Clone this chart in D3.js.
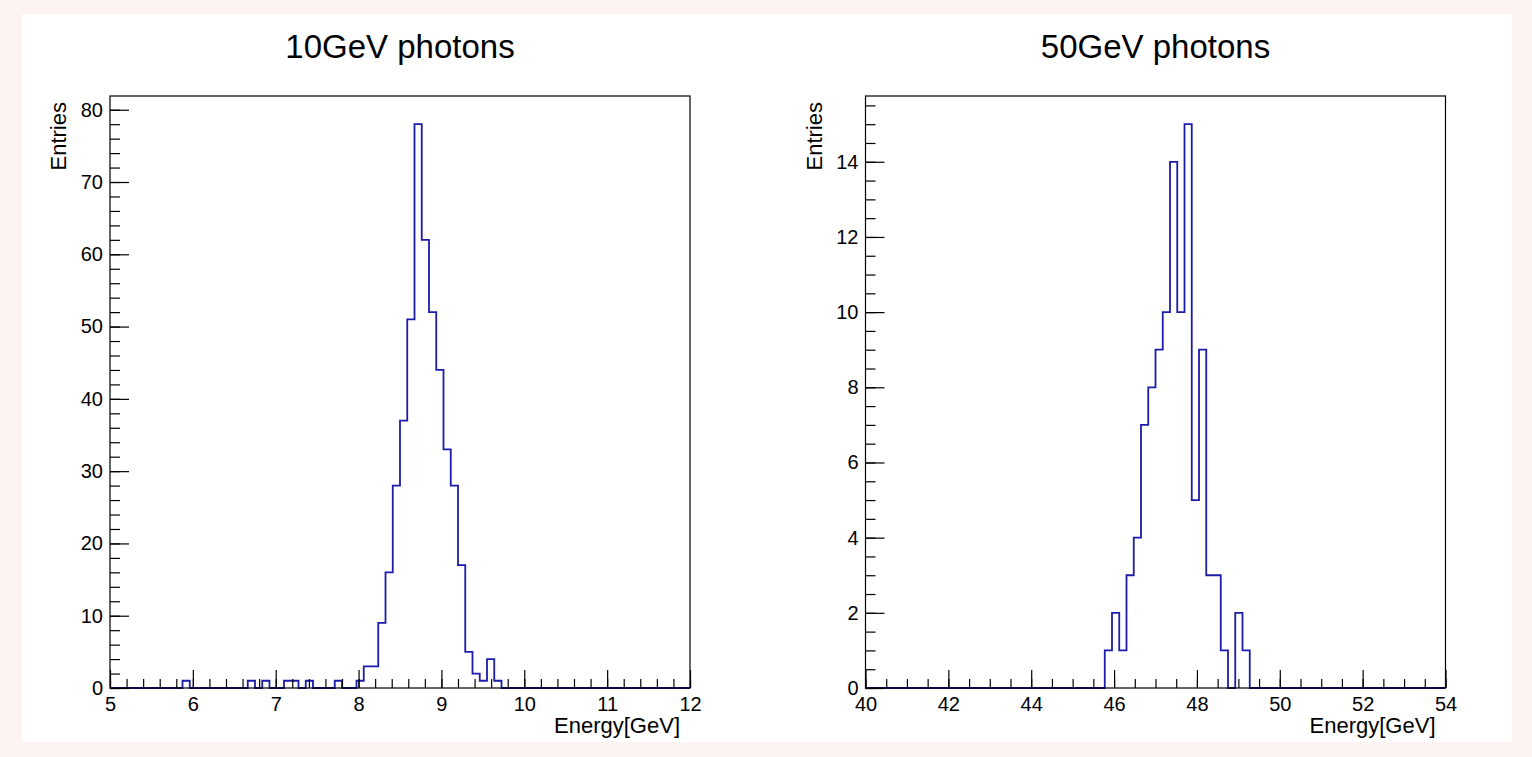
<!DOCTYPE html>
<html>
<head>
<meta charset="utf-8">
<script src="https://cdn.jsdelivr.net/npm/d3@7"></script>
<style>
  body { margin: 0; background: #fdf4f1; }
  svg { display: block; font-family: "Liberation Sans", Arial, Helvetica, sans-serif; }
</style>
</head>
<body>
<svg id="chart" width="1532" height="757"></svg>
<script>
// 80 bins each, counts
var titles = ["10GeV photons", "50GeV photons"];
var xRanges = [[5, 12], [40, 54]];
var counts10 = [
  0,0,0,0,0,0,0,0,0,0,
  1,0,0,0,0,0,0,0,0,1,
  0,1,0,0,1,1,0,1,0,0,
  0,1,0,0,1,3,3,9,16,28,
  37,51,78,62,52,44,33,28,17,5,
  2,1,4,1,0,0,0,0,0,0,
  0,0,0,0,0,0,0,0,0,0,
  0,0,0,0,0,0,0,0,0,0
];
var counts50 = [
  0,0,0,0,0,0,0,0,0,0,
  0,0,0,0,0,0,0,0,0,0,
  0,0,0,0,0,0,0,0,0,0,
  0,0,0,1,2,1,3,4,7,8,
  9,10,14,10,15,5,9,3,3,1,
  0,2,1,0,0,0,0,0,0,0,
  0,0,0,0,0,0,0,0,0,0,
  0,0,0,0,0,0,0,0,0,0
];
var xMajor = [[5,6,7,8,9,10,11,12], [40,42,44,46,48,50,52,54]];
var xMinorStep = [0.2, 0.5];
var yMajor = [[0,10,20,30,40,50,60,70,80], [0,2,4,6,8,10,12,14]];
var yMinorStep = [2, 0.5];
var xTitle = "Energy[GeV]";
var yTitle = "Entries";

var svg = d3.select("#chart");
svg.append("rect").attr("x", 22).attr("y", 14).attr("width", 1490).attr("height", 728).attr("fill", "#fff");

var panels = [
  {left: 110, counts: counts10},
  {left: 865.5, counts: counts50}
];
var frameTop = 96, frameBottom = 688, frameW = 580;

function range(a, b, s) {
  var out = [];
  for (var v = a; v <= b + 1e-9; v += s) out.push(+v.toFixed(4));
  return out;
}

panels.forEach(function (p, i) {
  var data = p.counts;
  var x = d3.scaleLinear().domain(xRanges[i]).range([p.left, p.left + frameW]);
  var y = d3.scaleLinear().domain([0, d3.max(data) * 1.05]).range([frameBottom, frameTop]);
  var bw = (xRanges[i][1] - xRanges[i][0]) / data.length;

  // step outline
  var pts = [[xRanges[i][0], 0]];
  data.forEach(function (c, k) {
    var lo = xRanges[i][0] + k * bw;
    pts.push([lo, c]);
    pts.push([lo + bw, c]);
  });
  pts.push([xRanges[i][1], 0]);
  svg.append("path")
    .attr("d", d3.line().x(function (d) { return x(d[0]); }).y(function (d) { return y(d[1]); })(pts))
    .attr("fill", "none")
    .attr("stroke", "#1c1caa")
    .attr("stroke-width", 1.8);

  // frame
  svg.append("rect")
    .attr("x", p.left).attr("y", frameTop).attr("width", frameW).attr("height", frameBottom - frameTop)
    .attr("fill", "none").attr("stroke", "#000").attr("stroke-width", 1.2);

  // x axis ticks
  var xMin = svg.append("g").attr("transform", "translate(0," + frameBottom + ")")
    .call(d3.axisBottom(x).tickValues(range(xRanges[i][0], xRanges[i][1], xMinorStep[i])).tickSize(-9).tickFormat(""));
  var xMaj = svg.append("g").attr("transform", "translate(0," + frameBottom + ")")
    .call(d3.axisBottom(x).tickValues(xMajor[i]).tickSize(-18).tickPadding(9).tickFormat(d3.format("d")));

  // y axis ticks
  var yMin = svg.append("g").attr("transform", "translate(" + p.left + ",0)")
    .call(d3.axisLeft(y).tickValues(range(0, y.domain()[1], yMinorStep[i])).tickSize(-10).tickFormat(""));
  var yMaj = svg.append("g").attr("transform", "translate(" + p.left + ",0)")
    .call(d3.axisLeft(y).tickValues(yMajor[i]).tickSize(-19).tickPadding(7).tickFormat(d3.format("d")));

  [xMin, xMaj, yMin, yMaj].forEach(function (g) {
    g.select(".domain").remove();
    g.selectAll("line").attr("stroke", "#000").attr("stroke-width", 1.2);
    g.selectAll("text").attr("fill", "#000").style("font-size", "20px")
      .style("font-family", "'Liberation Sans', Arial, Helvetica, sans-serif");
  });

  // titles
  svg.append("text")
    .attr("x", p.left + frameW / 2).attr("y", 58)
    .attr("text-anchor", "middle").style("font-size", "33px")
    .text(titles[i]);
  svg.append("text")
    .attr("x", p.left + frameW - 10).attr("y", 733)
    .attr("text-anchor", "end").style("font-size", "22px")
    .text(xTitle);
  svg.append("text")
    .attr("transform", "translate(" + (p.left - 44) + "," + (frameTop + 6) + ") rotate(-90)")
    .attr("text-anchor", "end").style("font-size", "22px")
    .text(yTitle);
});
</script>
</body>
</html>
